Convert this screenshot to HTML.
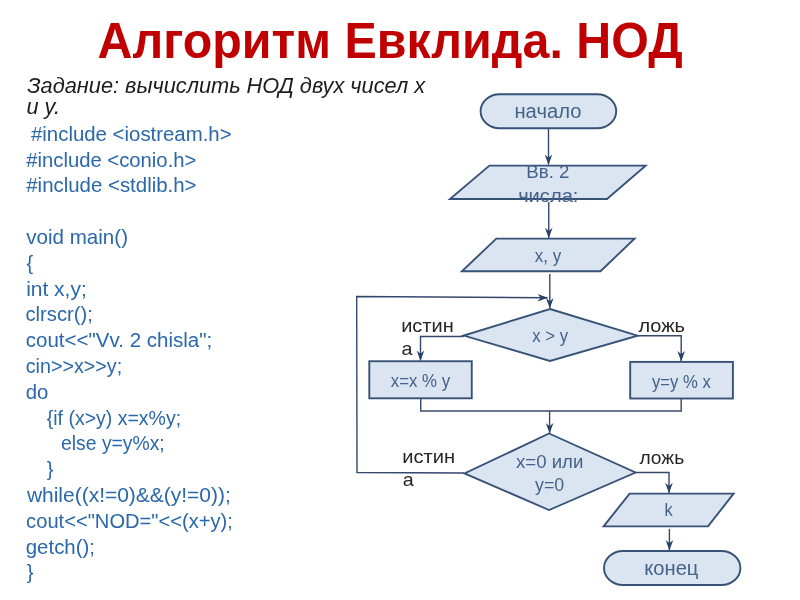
<!DOCTYPE html>
<html><head><meta charset="utf-8">
<style>
html,body{margin:0;padding:0;background:#fff;width:800px;height:600px;overflow:hidden}
svg{display:block;position:absolute;left:0;top:0;filter:blur(0.4px)}
text{font-family:"Liberation Sans",sans-serif}
.sh{fill:#DBE5F1;stroke:#375277;stroke-width:1.9}
.ln{fill:none;stroke:#34496A;stroke-width:1.4}
</style></head>
<body>
<svg width="800" height="600" viewBox="0 0 800 600">
<defs>
<marker id="ah" markerWidth="12" markerHeight="10" refX="10" refY="5" orient="auto" markerUnits="userSpaceOnUse">
<path d="M0,1.2 L10.5,5 L0,8.8 L3.2,5 Z" fill="#2A4166"/>
</marker>
</defs>
<!-- shapes -->
<rect class="sh" x="480.6" y="94.2" width="135.6" height="34" rx="19" ry="17"/>
<polygon class="sh" points="489.4,165.6 645.6,165.6 607,199 450,199"/>
<polygon class="sh" points="496.3,238.6 634.5,238.6 600.5,271.3 461.9,271.3"/>
<polygon class="sh" points="550,309 637.6,335.7 550,361 463.75,335.6"/>
<rect class="sh" x="369.3" y="361.25" width="102.45" height="37.05"/>
<rect class="sh" x="630.2" y="361.9" width="102.7" height="36.6"/>
<polygon class="sh" points="549.1,433.5 635.5,472.5 549.1,510 464.5,473.4"/>
<polygon class="sh" points="629.6,493.6 733.6,493.6 708,526.4 603.6,526.4"/>
<rect class="sh" x="604" y="551" width="136.4" height="34" rx="19" ry="17"/>
<!-- flowchart connectors -->
<g class="ln">
<path d="M548.5,129 L548.5,164.5" marker-end="url(#ah)"/>
<path d="M548.75,202 L548.75,237.8" marker-end="url(#ah)"/>
<path d="M549.8,274 L549.8,308" marker-end="url(#ah)"/>
<path d="M464,473 L357,472.5 L356.7,296.5 L547.5,297.8" marker-end="url(#ah)"/>
<path d="M463.75,336.5 L420.5,336.5 L420.5,360.5" marker-end="url(#ah)"/>
<path d="M637.6,335.7 L681.2,335.7 L681.2,361" marker-end="url(#ah)"/>
<path d="M420.75,399 L420.75,411 L681.2,411 L681.2,399"/>
<path d="M549.6,411 L549.6,433" marker-end="url(#ah)"/>
<path d="M635.5,472.5 L669,472.5 L669,492.8" marker-end="url(#ah)"/>
<path d="M669.4,529 L669.4,550" marker-end="url(#ah)"/>
</g>
<text transform="translate(97.53,57.50) scale(0.9776,1)" font-size="49.5" font-weight="bold" fill="#C00000">Алгоритм Евклида. НОД</text>
<text transform="translate(27.25,93.00) scale(1.0030,1)" font-size="21.7" font-style="italic" fill="#1c1c1c">Задание: вычислить НОД двух чисел х</text>
<text transform="translate(26.50,113.50) scale(1.0000,1)" font-size="21.7" font-style="italic" fill="#1c1c1c">и у.</text>
<text transform="translate(31.00,140.70) scale(1.0519,1)" font-size="19.4" fill="#2A68AA">#include &lt;iostream.h&gt;</text>
<text transform="translate(26.25,166.50) scale(1.0454,1)" font-size="19.4" fill="#2A68AA">#include &lt;conio.h&gt;</text>
<text transform="translate(26.25,192.30) scale(1.0535,1)" font-size="19.4" fill="#2A68AA">#include &lt;stdlib.h&gt;</text>
<text transform="translate(26.30,243.90) scale(1.0607,1)" font-size="19.4" fill="#2A68AA">void main()</text>
<text transform="translate(26.49,269.70) scale(1.0300,1)" font-size="19.4" fill="#2A68AA">{</text>
<text transform="translate(26.15,295.50) scale(1.0811,1)" font-size="19.4" fill="#2A68AA">int x,y;</text>
<text transform="translate(25.47,321.30) scale(1.0442,1)" font-size="19.4" fill="#2A68AA">clrscr();</text>
<text transform="translate(25.71,347.10) scale(1.0590,1)" font-size="19.4" fill="#2A68AA">cout&lt;&lt;"Vv. 2 chisla";</text>
<text transform="translate(25.74,372.90) scale(1.0162,1)" font-size="19.4" fill="#2A68AA">cin&gt;&gt;x&gt;&gt;y;</text>
<text transform="translate(25.71,398.70) scale(1.0500,1)" font-size="19.4" fill="#2A68AA">do</text>
<text transform="translate(46.75,424.50) scale(1.0057,1)" font-size="19.4" fill="#2A68AA">{if (x&gt;y) x=x%y;</text>
<text transform="translate(61.05,450.30) scale(0.9970,1)" font-size="19.4" fill="#2A68AA">else y=y%x;</text>
<text transform="translate(46.74,476.10) scale(1.0300,1)" font-size="19.4" fill="#2A68AA">}</text>
<text transform="translate(26.90,501.90) scale(1.0822,1)" font-size="19.4" fill="#2A68AA">while((x!=0)&amp;&amp;(y!=0));</text>
<text transform="translate(26.12,527.70) scale(1.0384,1)" font-size="19.4" fill="#2A68AA">cout&lt;&lt;"NOD="&lt;&lt;(x+y);</text>
<text transform="translate(25.71,553.50) scale(1.0545,1)" font-size="19.4" fill="#2A68AA">getch();</text>
<text transform="translate(26.64,579.30) scale(1.0300,1)" font-size="19.4" fill="#2A68AA">}</text>
<text transform="translate(514.45,117.50) scale(1.0418,1)" font-size="19.4" fill="#45628A">начало</text>
<text transform="translate(526.33,177.50) scale(0.9807,1)" font-size="19.0" fill="#45628A">Вв. 2</text>
<text transform="translate(518.13,201.50) scale(1.0710,1)" font-size="18.8" fill="#45628A">числа:</text>
<text transform="translate(534.76,261.90) scale(0.9459,1)" font-size="18.0" fill="#45628A">x, y</text>
<text transform="translate(532.37,341.90) scale(0.9255,1)" font-size="18.0" fill="#45628A">x &gt; y</text>
<text transform="translate(390.77,386.60) scale(0.9255,1)" font-size="18.2" fill="#45628A">x=x % y</text>
<text transform="translate(652.00,387.50) scale(0.9156,1)" font-size="18.2" fill="#45628A">y=y % x</text>
<text transform="translate(516.00,467.50) scale(1.0115,1)" font-size="18.4" fill="#45628A">x=0 или</text>
<text transform="translate(535.00,490.80) scale(0.9661,1)" font-size="18.4" fill="#45628A">y=0</text>
<text transform="translate(664.39,516.40) scale(0.8875,1)" font-size="18.6" fill="#45628A">k</text>
<text transform="translate(644.32,575.00) scale(1.0275,1)" font-size="19.6" fill="#45628A">конец</text>
<text transform="translate(401.20,331.60) scale(1.0408,1)" font-size="19.2" fill="#262626">истин</text>
<text transform="translate(401.58,354.75) scale(1.0300,1)" font-size="19.2" fill="#262626">а</text>
<text transform="translate(638.50,332.00) scale(1.0409,1)" font-size="19.2" fill="#262626">ложь</text>
<text transform="translate(402.29,463.00) scale(1.0471,1)" font-size="19.2" fill="#262626">истин</text>
<text transform="translate(402.83,486.00) scale(1.0300,1)" font-size="19.2" fill="#262626">а</text>
<text transform="translate(639.40,464.40) scale(1.0023,1)" font-size="19.2" fill="#262626">ложь</text>
</svg>
</body></html>
